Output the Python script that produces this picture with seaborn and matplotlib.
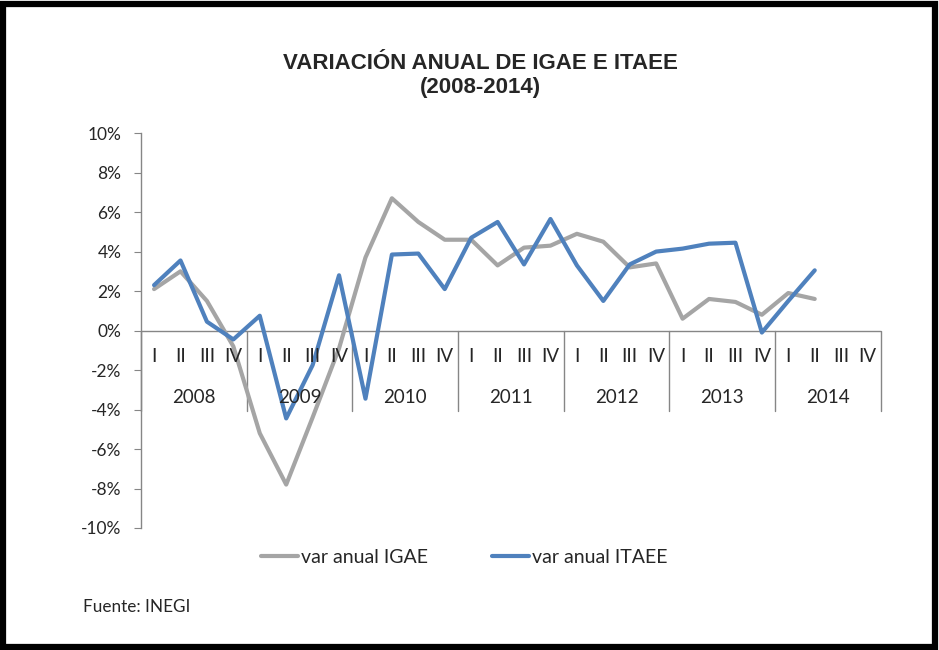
import pandas as pd
import seaborn as sns
import matplotlib.pyplot as plt
from matplotlib.patches import Rectangle
from matplotlib.lines import Line2D
from matplotlib.ticker import FuncFormatter, MultipleLocator

# datos (variacion anual, %)
anios = ['2008', '2009', '2010', '2011', '2012', '2013', '2014']
trimestres = ['I', 'II', 'III', 'IV']
igae = [2.1, 3.0, 1.5, -0.8,
        -5.2, -7.8, -4.4, -0.9,
        3.7, 6.7, 5.5, 4.6,
        4.6, 3.3, 4.2, 4.3,
        4.9, 4.5, 3.2, 3.4,
        0.6, 1.6, 1.45, 0.8,
        1.9, 1.6]
itaee = [2.3, 3.55, 0.45, -0.45,
         0.75, -4.45, -1.75, 2.8,
         -3.45, 3.85, 3.9, 2.1,
         4.7, 5.5, 3.35, 5.65,
         3.3, 1.5, 3.35, 4.0,
         4.15, 4.4, 4.45, -0.1,
         1.5, 3.05]
series = ['var anual IGAE', 'var anual ITAEE']
colores = ['#A5A5A5', '#4F81BD']

n_cat = len(anios) * len(trimestres)
df = pd.concat([
    pd.DataFrame({'idx': range(len(igae)), 'valor': igae, 'serie': series[0]}),
    pd.DataFrame({'idx': range(len(itaee)), 'valor': itaee, 'serie': series[1]}),
])

sns.set_style('white')
plt.rcParams['font.family'] = ['Lato', 'DejaVu Sans']

fig = plt.figure(figsize=(9.39, 6.5), dpi=100)
ax = fig.add_axes([0.150, 0.1877, 0.788, 0.6075])

sns.lineplot(data=df, x='idx', y='valor', hue='serie', palette=colores,
             linewidth=3, ax=ax, legend=False)

ax.set_xlim(-0.5, n_cat - 0.5)
ax.set_ylim(-10, 10)
ax.yaxis.set_major_locator(MultipleLocator(2))
ax.yaxis.set_major_formatter(FuncFormatter(lambda v, p: f"{v:.0f}%"))
ax.tick_params(axis='y', left=True, length=5, color='#868686', labelsize=12.5, pad=9)
ax.set_xticks([])
ax.set_xlabel('')
ax.set_ylabel('')
for s in ['top', 'right', 'bottom']:
    ax.spines[s].set_visible(False)
ax.spines['left'].set_color('#868686')
ax.spines['left'].set_linewidth(1)

# eje de categorias en cero
ax.axhline(0, color='#868686', lw=1, zorder=1)
for k in range(len(anios) + 1):
    ax.plot([k * 4 - 0.5, k * 4 - 0.5], [0, -4.05], color='#868686', lw=1,
            clip_on=False, zorder=1)
for i in range(n_cat):
    ax.text(i, -1.3, trimestres[i % 4], ha='center', va='center', fontsize=13.5)
for k, a in enumerate(anios):
    ax.text(k * 4 + 1.5, -3.4, a, ha='center', va='center', fontsize=13.5)

# titulo
fig.text(0.512, 0.884, 'VARIACIÓN ANUAL DE IGAE E ITAEE\n(2008-2014)',
         ha='center', va='center', fontsize=16, fontweight='bold',
         family=['Liberation Sans Narrow', 'Liberation Sans'], linespacing=1.18)

# leyenda
handles = [Line2D([], [], color=c, lw=3) for c in colores]
fig.legend(handles, series, loc='center', bbox_to_anchor=(0.494, 0.143), ncol=2,
           frameon=False, fontsize=14, handlelength=1.9, handletextpad=0.15,
           columnspacing=3.3)

fig.text(0.088, 0.066, 'Fuente: INEGI', ha='left', va='center', fontsize=12.3)

fig.patches.append(Rectangle((0.003, 0.004), 0.993, 0.99, transform=fig.transFigure,
                             fill=False, edgecolor='black', lw=4.5))

fig.savefig('out.png', dpi=100)
